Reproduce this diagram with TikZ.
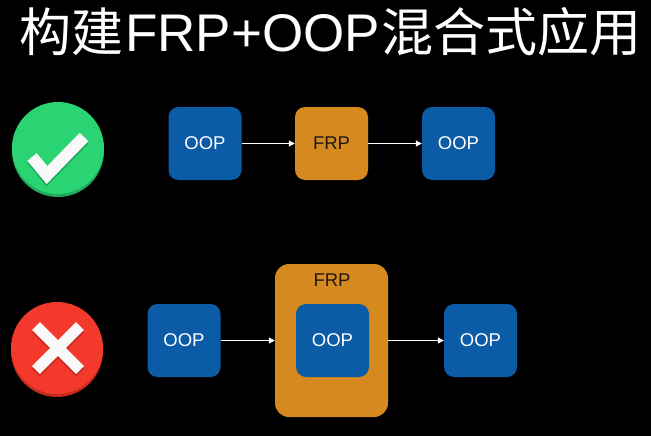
\documentclass[tikz,border=0pt]{standalone}
\usepackage{fontspec}
\setmainfont{Liberation Sans}
\newfontfamily\cjk{Noto Sans CJK SC}
\usetikzlibrary{arrows.meta}
\definecolor{boxblue}{RGB}{11,91,166}
\definecolor{boxorange}{RGB}{214,137,31}
\definecolor{okgreen}{RGB}{43,212,115}
\definecolor{okgreendark}{RGB}{30,170,90}
\definecolor{badred}{RGB}{242,57,43}
\definecolor{badreddark}{RGB}{200,42,32}
\definecolor{textdark}{RGB}{30,25,20}
\tikzset{
  blk/.style={rounded corners=10pt, inner sep=0pt, minimum width=73pt, minimum height=73pt, font=\fontsize{18.5}{18.5}\selectfont},
  oopbox/.style={blk, fill=boxblue, text=white},
  frpbox/.style={blk, fill=boxorange, text=textdark},
  flow/.style={draw=white, line width=1.2pt, -{Triangle[length=6pt,width=6pt]}},
}
\begin{document}
\begin{tikzpicture}[x=1pt,y=-1pt]
\fill[black] (0,0) rectangle (651,436);
\useasboundingbox (0,0) rectangle (651,436);
% title
\node[anchor=base west, inner sep=0pt, text=white, font=\fontsize{51}{51}\selectfont] (title) at (19,52) {{\cjk\fontsize{52}{52}\selectfont 构建}\kern2pt{\fontsize{53}{53}\selectfont FRP+OOP}\kern2pt{\cjk\fontsize{52}{52}\selectfont 混合式应用}};
% check icon
\fill[okgreendark] (58,151) circle (46);
\fill[okgreen] (58,148) circle (46);
\draw[okgreendark, line width=12pt, line join=miter, line cap=butt] (32,159.5) -- (47,177.5) -- (84,139.5);
\draw[white!95!gray, line width=12pt, line join=miter, line cap=butt] (32,157) -- (47,175) -- (84,137);
% top row
\node[oopbox] (t1) at (205,143.5) {OOP};
\node[frpbox] (t2) at (331.5,143.5) {FRP};
\node[oopbox] (t3) at (458.5,143.5) {OOP};
\draw[flow] (t1) -- (t2);
\draw[flow] (t2) -- (t3);
% cross icon
\fill[badreddark] (57,351) circle (46);
\fill[badred] (57,348) circle (46);
\begin{scope}[shift={(58,350.5)}]
\draw[badreddark, line width=11pt] (-22,-22) -- (22,22) (-22,22) -- (22,-22);
\end{scope}
\begin{scope}[shift={(58,348)}]
\draw[white!95!gray, line width=11pt] (-22,-22) -- (22,22) (-22,22) -- (22,-22);
\end{scope}
% bottom row
\node[oopbox] (b1) at (184,340.5) {OOP};
\node[frpbox, minimum width=113pt, minimum height=153pt, rounded corners=14pt] (b2) at (331.5,340.5) {};
\node[anchor=base, inner sep=0pt, text=textdark, font=\fontsize{18.5}{18.5}\selectfont] (b2l) at (332,286) {FRP};
\node[oopbox] (b2i) at (332.5,340.5) {OOP};
\node[oopbox] (b3) at (480.5,340.5) {OOP};
\draw[flow] (b1) -- (b2);
\draw[flow] (b2) -- (b3);
\end{tikzpicture}
\end{document}
